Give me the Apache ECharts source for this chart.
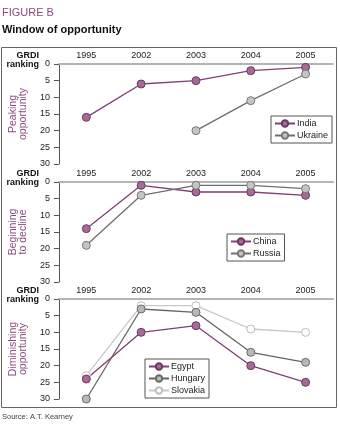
<!DOCTYPE html>
<html><head><meta charset="utf-8">
<script src="https://cdn.jsdelivr.net/npm/echarts@6/dist/echarts.min.js"></script>
<style>html,body{margin:0;padding:0;background:#fff}#c{width:340px;height:425px}</style>
</head><body><div id="c"></div>
<script>
var years = ['1995','2002','2003','2004','2005'];
var yTicks = [0,5,10,15,20,25,30];
var india = [16,6,5,2,1];
var ukraine = [null,null,20,11,3];
var china = [14,1,3,3,4];
var russia = [19,4,1,1,2];
var egypt = [24,10,8,20,25];
var hungary = [30,3,4,16,19];
var slovakia = [23,2,2,9,10];
var panelNames = ['Peaking\nopportunity','Beginning\nto decline','Diminishing\nopportunity'];

var FONT = '"Liberation Sans",Arial,sans-serif';
var PURPLE = '#8b4a7f';
var tops = [64,182,299];
var H = 100;

var grids=[], xAxes=[], yAxes=[];
for (var i=0;i<3;i++){
  grids.push({left:58, right:7, top:tops[i], height:H});
  xAxes.push({type:'category', gridIndex:i, data:years, position:'top', boundaryGap:true,
    axisLine:{lineStyle:{color:'#b4b4b4', width:2}}, axisTick:{show:false},
    axisLabel:{color:'#222', fontSize:9, fontFamily:FONT, margin:4}, splitLine:{show:false}});
  yAxes.push({type:'value', gridIndex:i, min:0, max:30, interval:5, inverse:true,
    name:panelNames[i], nameLocation:'middle', nameGap:25,
    nameTextStyle:{color:PURPLE, fontSize:10.5, fontFamily:FONT, lineHeight:10},
    axisLine:{show:true, lineStyle:{color:'#555', width:1}},
    axisTick:{show:true, length:5, lineStyle:{color:'#555'}},
    axisLabel:{color:'#222', fontSize:9, fontFamily:FONT, margin:9},
    splitLine:{show:false}});
}

function ser(name, data, gi, lineColor, fill, border){
  return {name:name, type:'line', xAxisIndex:gi, yAxisIndex:gi, data:data,
    symbol:'circle', symbolSize:8, connectNulls:false,
    lineStyle:{color:lineColor, width:1.3},
    itemStyle:{color:fill, borderColor:border, borderWidth:1},
    emphasis:{disabled:true}, animation:false, z:2};
}
var P_LINE='#7e3f73', P_FILL='#a46b96', P_BORDER='#6f3665';
var G_LINE='#6e6e6e', G_FILL='#c4c4c4', G_BORDER='#777';
var series = [
  ser('India', india, 0, P_LINE, P_FILL, P_BORDER),
  ser('Ukraine', ukraine, 0, G_LINE, G_FILL, G_BORDER),
  ser('China', china, 1, P_LINE, P_FILL, P_BORDER),
  ser('Russia', russia, 1, G_LINE, G_FILL, G_BORDER),
  ser('Slovakia', slovakia, 2, '#c8c8c8', '#ffffff', '#bdbdbd'),
  ser('Hungary', hungary, 2, '#646464', '#b8b8b8', '#6a6a6a'),
  ser('Egypt', egypt, 2, P_LINE, P_FILL, P_BORDER)
];

function leg(data, pos){
  var l = {data:data, orient:'vertical', itemWidth:20, itemHeight:8, itemGap:3,
    borderColor:'#555', borderWidth:1, padding:[3,4,3,3], backgroundColor:'#fff',
    textStyle:{fontSize:9, fontFamily:FONT, color:'#222', padding:[0,0,0,-3]}, selectedMode:false};
  for (var k in pos) l[k]=pos[k];
  return l;
}

var option = {
  animation:false,
  grid:grids, xAxis:xAxes, yAxis:yAxes, series:series,
  legend:[leg(['India','Ukraine'],{right:8,top:116}), leg(['China','Russia'],{left:227,top:234}), leg(['Egypt','Hungary','Slovakia'],{left:145,top:359})],
  graphic:[
    {type:'rect', shape:{x:1.5,y:47.5,width:335,height:360}, style:{fill:'none', stroke:'#666', lineWidth:1}, z:-1},
    {type:'text', x:2, y:7, style:{text:'FIGURE B', fill:PURPLE, font:'11px '+FONT}},
    {type:'text', x:2, y:24, style:{text:'Window of opportunity', fill:'#111', font:'bold 11px '+FONT}},
    {type:'text', x:2, y:413, style:{text:'Source: A.T. Kearney', fill:'#444', font:'7.5px '+FONT}},
    {type:'text', x:39, y:51, style:{text:'GRDI\nranking', fill:'#111', font:'bold 9px '+FONT, align:'right', lineHeight:9}},
    {type:'text', x:39, y:169, style:{text:'GRDI\nranking', fill:'#111', font:'bold 9px '+FONT, align:'right', lineHeight:9}},
    {type:'text', x:39, y:286, style:{text:'GRDI\nranking', fill:'#111', font:'bold 9px '+FONT, align:'right', lineHeight:9}}
  ]
};
var chart = echarts.init(document.getElementById('c'), null, {renderer:'canvas'});
chart.setOption(option);
</script></body></html>
